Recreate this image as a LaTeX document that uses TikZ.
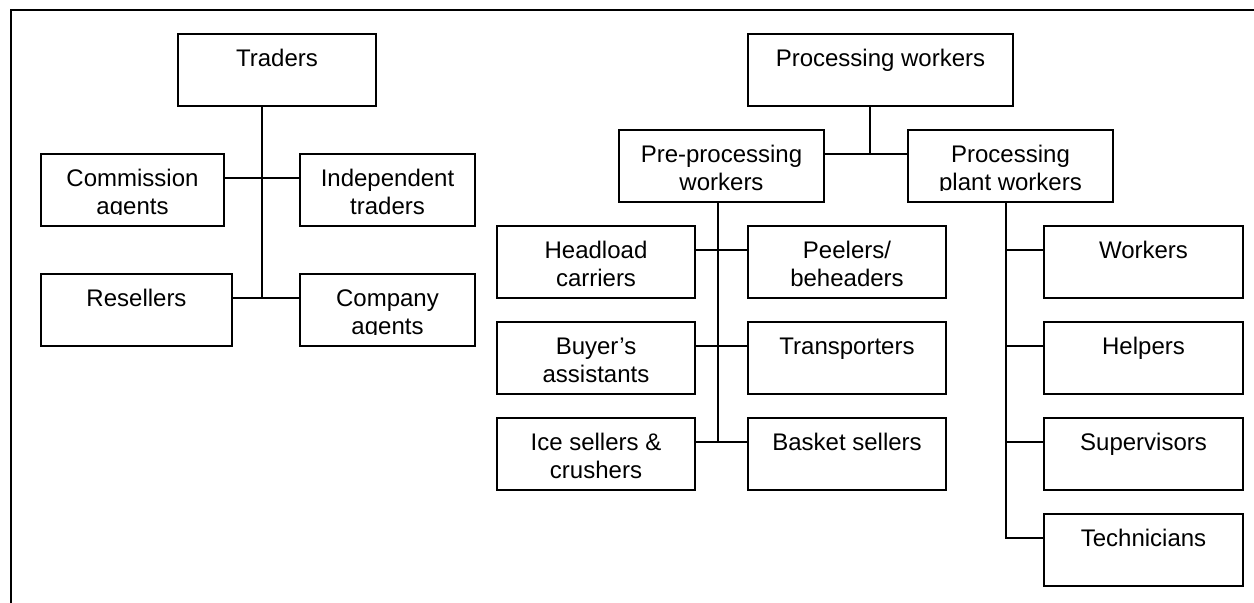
\documentclass[tikz,border=0pt]{standalone}
\usepackage{fontspec}
\setmainfont{Liberation Sans}

% \orgbox{name}{left}{top}{right}{bottom}{text}
% Draws an outlined box, its two branch points (name-l, name-r) and its
% text, which is set from the top and clipped like a fixed text frame.
\newcommand\orgbox[6]{%
  \pgfmathsetmacro\orgw{(#4-#2)*0.5}%
  \pgfmathsetmacro\orgh{(#5-#3)*0.5}%
  \node[orgrect, minimum width=\orgw pt, minimum height=\orgh pt]
    (#1) at ({(#2+#4)/2},{(#3+#5)/2}) {};
  \coordinate (#1-l) at (#2,#3+24);
  \coordinate (#1-r) at (#4,#3+24);
  \begin{scope}
    \clip (#2,#3) rectangle (#4,#5-11);
    \node[boxtext] (#1-text) at ({(#2+#4)/2},#3+33)
      {\begin{tabular}[t]{@{}c@{}}#6\end{tabular}};
  \end{scope}}

\begin{document}
\begin{tikzpicture}[x=0.5pt,y=-0.5pt,
  orgrect/.style={draw, line width=0.75pt, rectangle, inner sep=0pt, outer sep=0pt},
  boxtext/.style={inner sep=0pt, anchor=base,
                  font=\fontsize{12}{13.6}\selectfont},
  link/.style={line width=0.75pt},
  frameline/.style={line width=1pt}]
\useasboundingbox (0,0) rectangle (1254,603);

% outer frame (top and left edges)
\coordinate (frame-tr) at (1254,10);
\coordinate (frame-tl) at (11,10);
\coordinate (frame-bl) at (11,603);
\draw[frameline] (frame-tr) -- (frame-tl) -- (frame-bl);

% ---- Traders ----
\orgbox{traders}{178}{34}{376}{106}{Traders}
\orgbox{comm}{41}{154}{224}{226}{Commission\\agents}
\orgbox{indep}{300}{154}{475}{226}{Independent\\traders}
\orgbox{resell}{41}{274}{232}{346}{Resellers}
\orgbox{compag}{300}{274}{475}{346}{Company\\agents}

\coordinate (tr-top) at (262,106);
\coordinate (tr-end) at (262,298);
\draw[link] (tr-top) -- (tr-end);
\draw[link] (comm-r) -- (indep-l);
\draw[link] (resell-r) -- (compag-l);

% ---- Processing workers ----
\orgbox{proc}{748}{34}{1013}{106}{Processing workers}
\orgbox{pre}{619}{130}{824}{202}{Pre-processing\\workers}
\orgbox{plant}{908}{130}{1113}{202}{Processing\\plant workers}

\coordinate (pj) at (870,154);
\draw[link] (proc.south -| pj) -- (pj);
\draw[link] (pre-r) -- (plant-l);

% pre-processing branch
\orgbox{head}{497}{226}{695}{298}{Headload\\carriers}
\orgbox{peel}{748}{226}{946}{298}{Peelers/\\beheaders}
\orgbox{buyer}{497}{322}{695}{394}{Buyer’s\\assistants}
\orgbox{trans}{748}{322}{946}{394}{Transporters}
\orgbox{ice}{497}{418}{695}{490}{Ice sellers \&\\crushers}
\orgbox{basket}{748}{418}{946}{490}{Basket sellers}

\coordinate (prej) at (718,442);
\draw[link] (pre.south -| prej) -- (prej);
\draw[link] (head-r) -- (peel-l);
\draw[link] (buyer-r) -- (trans-l);
\draw[link] (ice-r) -- (basket-l);

% processing plant branch
\orgbox{work}{1044}{226}{1243}{298}{Workers}
\orgbox{help}{1044}{322}{1243}{394}{Helpers}
\orgbox{super}{1044}{418}{1243}{490}{Supervisors}
\orgbox{tech}{1044}{514}{1243}{586}{Technicians}

\coordinate (plj) at (1006,538);
\draw[link] (plant.south -| plj) |- (tech-l);
\draw[link] (plj |- work-l) -- (work-l);
\draw[link] (plj |- help-l) -- (help-l);
\draw[link] (plj |- super-l) -- (super-l);
\end{tikzpicture}
\end{document}
